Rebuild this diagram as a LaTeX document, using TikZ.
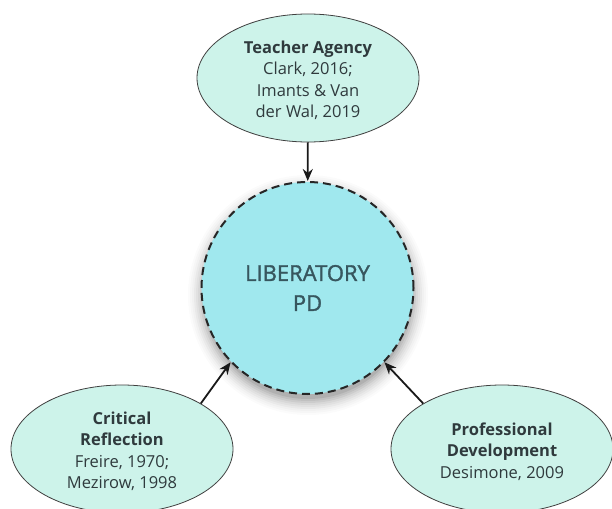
\documentclass[tikz,border=0pt]{standalone}
\usepackage{fontspec}
\setmainfont{Open Sans}
\newfontfamily\hubface[FakeBold=1.5]{Open Sans}
\newcommand{\topgap}{\rule{0pt}{17.5pt}}
\usetikzlibrary{arrows.meta,shapes.geometric}
\definecolor{elfill}{HTML}{CDF3EA}
\definecolor{hubfill}{HTML}{A0E8EE}
\definecolor{ink}{HTML}{2F3A3D}
\definecolor{hubink}{HTML}{37565E}
\tikzset{
  x=1pt,y=-1pt,
  source/.style={ellipse,draw=black!75,line width=0.8pt,fill=elfill,minimum width=222pt,minimum height=128pt,inner sep=0pt,align=center,text=ink,font=\fontsize{16.5}{21.5}\selectfont},
  hub/.style={circle,draw=black!85,line width=2pt,dash pattern=on 8pt off 5pt,fill=hubfill,minimum size=212pt,inner sep=0pt,align=center,text=hubink,font=\hubface\fontsize{22}{30}\selectfont},
  link/.style={line width=1.8pt,black!90,-{Stealth[length=12pt,width=10pt]}},
}
\begin{document}
\begin{tikzpicture}
\useasboundingbox[fill=white] (0,0) rectangle (612,508);
\foreach \r/\o in {120/0.015,118/0.02,116/0.02,114/0.03,112/0.03,110/0.04,108/0.05,106/0.06,104/0.08}{
  \fill[black,opacity=\o] (308,295) circle (\r);
}
\node[hub] (core) at (307.5,288) {LIBERATORY\\PD};
\node[source] (agency) at (308,78) {\topgap\textbf{Teacher Agency}\\Clark, 2016;\\Imants \& Van\\der Wal, 2019};
\node[source] (reflect) at (122,449) {\topgap\textbf{Critical}\\\textbf{Reflection}\\Freire, 1970;\\Mezirow, 1998};
\node[source] (develop) at (502,449) {\topgap\textbf{Professional}\\\textbf{Development}\\Desimone, 2009};
\draw[link] (agency) -- (core);
\draw[link] (reflect.30) -- (core.224);
\draw[link] (develop.150) -- (core.316);
\end{tikzpicture}
\end{document}
